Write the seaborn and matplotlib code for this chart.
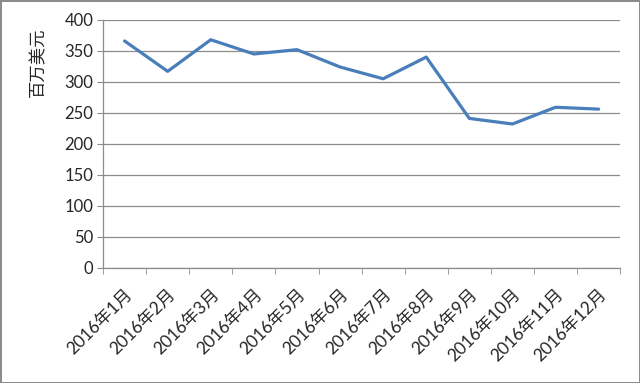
import matplotlib
matplotlib.use("Agg")
import matplotlib.pyplot as plt
import seaborn as sns
import pandas as pd

months = ["2016年%d月" % m for m in range(1, 13)]
values = [366, 317, 368, 345, 352, 324, 305, 340, 241, 232, 259, 256]

df = pd.DataFrame({"month": months, "value": values})

sns.set_style("white")
plt.rcParams['font.family'] = ['Lato', 'Noto Sans CJK SC', 'DejaVu Sans']

fig = plt.figure(figsize=(6.4, 3.83), dpi=100)
fig.patch.set_edgecolor("#8c8c8c")
fig.patch.set_linewidth(2)
ax = fig.add_axes([0.161, 0.301, 0.808, 0.647])

sns.lineplot(data=df, x="month", y="value", ax=ax, color="#4a7ebb",
             linewidth=2.3, sort=False)

ax.set_ylim(0, 400)
ax.set_xlim(-0.5, 11.5)
ax.set_yticks(range(0, 401, 50))
ax.yaxis.grid(True, color="#8c8c8c", linewidth=0.9)
ax.set_axisbelow(True)

# tick marks between categories on the x axis
ax.set_xticks([i - 0.5 for i in range(13)], minor=True)
ax.tick_params(axis="x", which="major", length=0, labelsize=12.5, pad=13)
ax.tick_params(axis="x", which="minor", length=4, color="#8c8c8c", direction="out", bottom=True)
ax.tick_params(axis="y", length=4, color="#8c8c8c", direction="out", left=True, labelsize=12, pad=3)
plt.setp(ax.get_xticklabels(), rotation=45, ha="right", rotation_mode="anchor")

for s in ["top", "right"]:
    ax.spines[s].set_visible(False)
for s in ["left", "bottom"]:
    ax.spines[s].set_color("#8c8c8c")
    ax.spines[s].set_linewidth(0.9)

ax.set_xlabel("")
ax.set_ylabel("百万美元", fontsize=12.5, family=['Noto Sans CJK SC'], fontweight="medium")
ax.yaxis.set_label_coords(-0.108, 0.83)

fig.savefig("out.png", dpi=100)
